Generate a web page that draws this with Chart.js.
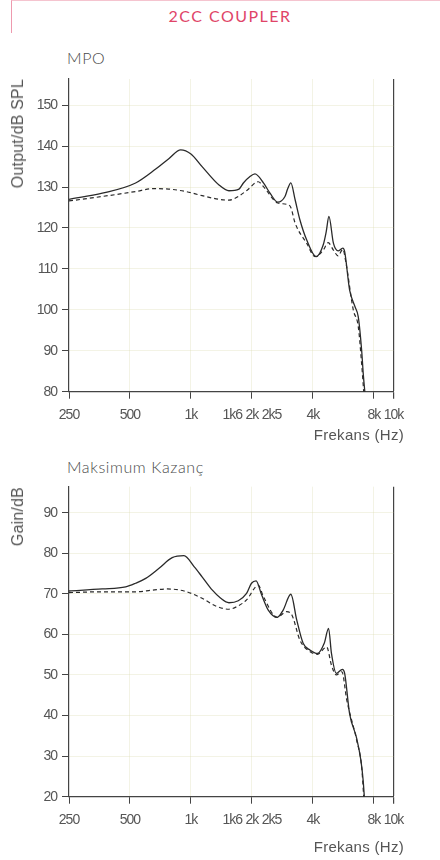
<!DOCTYPE html>
<html>
<head>
<meta charset="utf-8">
<script src="https://cdn.jsdelivr.net/npm/chart.js@4.4.1/dist/chart.umd.min.js"></script>
<style>
  html, body { margin: 0; padding: 0; background: #fff; }
  body { width: 440px; height: 860px; position: relative; overflow: hidden; }
  .frame { position: absolute; left: 11px; top: 0; width: 429px; height: 32px; border-left: 1px solid #ee9aae; border-top: 1px solid #f5c4cf; }
  .title { position: absolute; top: 8px; left: 0; width: 460px; text-align: center; font: 16px Lato, sans-serif; color: #e04468; letter-spacing: 1.5px; line-height: 1; }
  .sub { position: absolute; left: 67px; font: 300 16px Lato, sans-serif; color: #4a4a4a; letter-spacing: 0.6px; line-height: 1; }
  .xt { position: absolute; right: 36px; font: 15px "Liberation Sans", sans-serif; color: #555; letter-spacing: 0.3px; line-height: 1; }
  .yt { position: absolute; left: 18px; font: 16px "Liberation Sans", sans-serif; color: #555; letter-spacing: 0.2px; line-height: 1;
        white-space: nowrap; transform-origin: 0 0; transform: rotate(-90deg) translate(-100%, -50%); }
  .wrap { position: absolute; left: 0; width: 440px; }
  canvas { display: block; }
</style>
</head>
<body>
<div class="frame"></div>
<div class="title">2CC COUPLER</div>
<div class="sub" style="top:50px">MPO</div>
<div class="wrap" style="top:50px;height:400px"><canvas id="mpoChart" width="440" height="400"></canvas></div>
<div class="yt" style="top:79px">Output/dB SPL</div>
<div class="xt" style="top:427px">Frekans (Hz)</div>
<div class="sub" style="top:459px">Maksimum Kazanç</div>
<div class="wrap" style="top:455px;height:405px"><canvas id="gainChart" width="440" height="405"></canvas></div>
<div class="yt" style="top:487px">Gain/dB</div>
<div class="xt" style="top:839px">Frekans (Hz)</div>

<script>
// Axis ticks
const xTickValues = [250, 500, 1000, 1600, 2000, 2500, 4000, 8000, 10000];
const xTickLabels = ["250", "500", "1k", "1k6", "2k", "2k5", "4k", "8k", "10k"];
const xTickMarks = [250, 500, 1000, 2000, 4000, 8000, 10000];
const mpoTicks = [80, 90, 100, 110, 120, 130, 140, 150];
const gainTicks = [20, 30, 40, 50, 60, 70, 80, 90];

// MPO - solid curve
const mpoSolidFreq = [250, 365, 533, 670, 780, 890, 1000, 1135, 1376, 1540, 1726, 1815, 1950, 2070, 2280, 2457, 2683, 2912, 3000, 3113, 3268, 3450, 3725, 4150, 4500, 4650, 4800, 5050, 5330, 5620, 5740, 6070, 6450, 6700, 6960, 7100, 7250];
const mpoSolid = [127.0, 128.5, 131.0, 134.4, 137.0, 139.1, 138.1, 135.0, 130.5, 129.1, 129.5, 131.0, 132.5, 133.2, 131.0, 128.5, 126.3, 127.7, 129.5, 131.0, 126.9, 122.0, 117.1, 113.0, 115.9, 119.0, 122.8, 116.3, 114.4, 115.1, 114.2, 104.9, 100.8, 98.3, 90.2, 84.0, 79.0];

// MPO - dashed curve
const mpoDashFreq = [250, 365, 533, 645, 777, 943, 1135, 1376, 1540, 1726, 1900, 2150, 2280, 2683, 2963, 3113, 3268, 3725, 4100, 4500, 4760, 5050, 5330, 5620, 5830, 6330, 6700, 6960, 7080, 7150];
const mpoDash = [126.6, 127.7, 128.9, 129.6, 129.5, 128.9, 127.9, 127.0, 126.8, 127.8, 129.3, 131.3, 130.1, 126.1, 125.8, 125.0, 121.2, 116.3, 113.0, 114.6, 116.4, 114.6, 113.2, 114.8, 111.4, 100.0, 95.9, 86.9, 82.0, 79.0];

// Maksimum Kazanç - solid curve
const gainSolidFreq = [250, 365, 476, 533, 598, 696, 808, 924, 1036, 1135, 1276, 1403, 1540, 1713, 1882, 1990, 2097, 2235, 2408, 2667, 2853, 3113, 3330, 3580, 3880, 4210, 4550, 4780, 4940, 5220, 5600, 5740, 6070, 6580, 6900, 7080, 7200];
const gainSolid = [70.7, 71.2, 71.7, 72.6, 73.8, 76.3, 78.9, 79.4, 76.7, 74.2, 70.9, 68.9, 67.8, 68.3, 70.1, 72.6, 73.2, 69.7, 66.0, 64.2, 66.0, 69.9, 63.5, 57.8, 56.1, 55.3, 57.8, 61.5, 55.3, 50.4, 51.4, 50.4, 40.5, 34.4, 29.0, 24.1, 19.0];

// Maksimum Kazanç - dashed curve
const gainDashFreq = [250, 365, 533, 645, 763, 924, 1135, 1325, 1540, 1693, 1882, 2150, 2280, 2667, 2963, 3150, 3450, 3880, 4210, 4680, 4940, 5220, 5560, 5880, 6580, 6960, 7150];
const gainDash = [70.3, 70.5, 70.5, 70.9, 71.2, 70.7, 68.9, 67.0, 66.2, 66.9, 68.5, 72.1, 69.3, 64.2, 65.6, 64.8, 58.6, 55.7, 55.1, 56.9, 52.4, 50.0, 50.8, 43.8, 33.9, 27.4, 19.0];

const tickFont = { family: "'Liberation Sans', sans-serif", size: 14 };
const axisColor = "#444";

// No condensed face installed: tighten tick labels a little instead
const tightText = {
  id: "tightText",
  beforeUpdate(chart) { chart.ctx.letterSpacing = "-1px"; },
  beforeDraw(chart) { chart.ctx.letterSpacing = "-1px"; },
};

function toPoints(freqs, values) {
  return freqs.map((f, i) => ({ x: f, y: values[i] }));
}

function makeChart(id, solid, dashed, yTicks, yMax, padTop, padBottom) {
  return new Chart(document.getElementById(id), {
    type: "line",
    data: {
      datasets: [
        {
          data: solid,
          borderColor: "#2a2a2a",
          borderWidth: 1.3,
          pointRadius: 0,
          cubicInterpolationMode: "monotone",
        },
        {
          data: dashed,
          borderColor: "#2a2a2a",
          borderWidth: 1.2,
          borderDash: [4, 3],
          pointRadius: 0,
          cubicInterpolationMode: "monotone",
        },
      ],
    },
    plugins: [tightText],
    options: {
      responsive: false,
      animation: false,
      devicePixelRatio: 1,
      layout: { padding: { top: padTop, right: 46.5, bottom: padBottom, left: 0 } },
      plugins: { legend: { display: false }, tooltip: { enabled: false } },
      scales: {
        x: {
          type: "logarithmic",
          min: 250,
          max: 10000,
          afterBuildTicks: (s) => { s.ticks = xTickValues.map((v) => ({ value: v })); },
          afterFit: (s) => { s.height = 30; },
          border: { color: axisColor, width: 1.2 },
          grid: {
            color: (ctx) => {
              const v = ctx.tick && ctx.tick.value;
              if (v === 10000) return axisColor;
              if (v === 250 || !xTickMarks.includes(v)) return "rgba(0,0,0,0)";
              return "rgba(215,215,170,0.3)";
            },
            lineWidth: (ctx) => (ctx.tick && ctx.tick.value === 10000 ? 1.2 : 1),
            tickColor: (ctx) => (ctx.tick && xTickMarks.includes(ctx.tick.value) ? axisColor : "rgba(0,0,0,0)"),
            tickLength: 7,
          },
          ticks: {
            autoSkip: false,
            maxRotation: 0,
            padding: 8,
            color: "#555",
            font: tickFont,
            callback: (v, i) => xTickLabels[i],
          },
        },
        y: {
          min: yTicks[0],
          max: yMax,
          afterBuildTicks: (s) => { s.ticks = yTicks.map((v) => ({ value: v })); },
          afterFit: (s) => { s.width = 69; },
          border: { color: axisColor, width: 1.2 },
          grid: {
            color: (ctx) => (ctx.index === 0 ? "rgba(0,0,0,0)" : "rgba(215,215,170,0.3)"),
            tickColor: axisColor,
            tickLength: 7,
          },
          ticks: { padding: 5, color: "#555", font: tickFont },
        },
      },
    },
  });
}

makeChart("mpoChart", toPoints(mpoSolidFreq, mpoSolid), toPoints(mpoDashFreq, mpoDash),
  mpoTicks, 156.4, 29, 28.3);
makeChart("gainChart", toPoints(gainSolidFreq, gainSolid), toPoints(gainDashFreq, gainDash),
  gainTicks, 96.4, 31.7, 33.3);
</script>
</body>
</html>
